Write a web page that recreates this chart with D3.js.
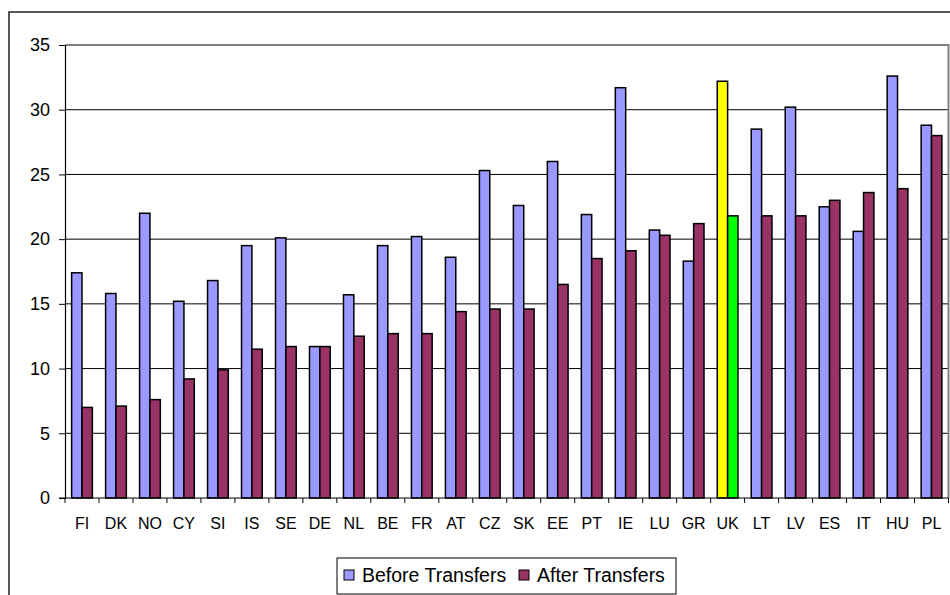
<!DOCTYPE html>
<html>
<head>
<meta charset="utf-8">
<script src="https://cdn.jsdelivr.net/npm/d3@7"></script>
<style>
  html, body { margin: 0; padding: 0; background: #fff; }
  svg { display: block; font-family: "Liberation Sans", Arial, sans-serif; }
</style>
</head>
<body>
<svg id="chart" width="950" height="595"></svg>
<script>
// Country codes along the x axis
const countries = ["FI","DK","NO","CY","SI","IS","SE","DE","NL","BE","FR","AT","CZ","SK","EE","PT","IE","LU","GR","UK","LT","LV","ES","IT","HU","PL"];
// Rate before social transfers (%)
const beforeTransfers = [17.4,15.8,22.0,15.2,16.8,19.5,20.1,11.7,15.7,19.5,20.2,18.6,25.3,22.6,26.0,21.9,31.7,20.7,18.3,32.2,28.5,30.2,22.5,20.6,32.6,28.8];
// Rate after social transfers (%)
const afterTransfers = [7.0,7.1,7.6,9.2,9.9,11.5,11.7,11.7,12.5,12.7,12.7,14.4,14.6,14.6,16.5,18.5,19.1,20.3,21.2,21.8,21.8,21.8,23.0,23.6,23.9,28.0];
const seriesNames = ["Before Transfers", "After Transfers"];
const yTicks = [0,5,10,15,20,25,30,35];
const highlight = "UK";

const colors = { before: "#9999FF", after: "#993366", hiBefore: "#FFFF00", hiAfter: "#00FF00" };

const svg = d3.select("#chart");

// outer chart frame
svg.append("rect")
  .attr("x", 9).attr("y", 12).attr("width", 960).attr("height", 600)
  .attr("fill", "none").attr("stroke", "#222").attr("stroke-width", 1.5);

const plot = { left: 65, right: 948.5, top: 45, bottom: 498 };

const y = d3.scaleLinear().domain([0, 35]).range([plot.bottom, plot.top]);
const x0 = d3.scaleBand().domain(countries).range([plot.left, plot.right])
  .paddingInner(0.39).paddingOuter(0.195);
const x1 = d3.scaleBand().domain(["before", "after"]).range([0, x0.bandwidth()]);

// gridlines
svg.append("g").selectAll("line")
  .data(yTicks.filter(t => t > 0 && t < 35))
  .join("line")
  .attr("x1", plot.left).attr("x2", plot.right)
  .attr("y1", d => y(d)).attr("y2", d => y(d))
  .attr("stroke", "#000").attr("stroke-width", 1);

// plot area border (top & right)
svg.append("path")
  .attr("d", `M${plot.left},${y(35)}H${plot.right}V${plot.bottom}`)
  .attr("fill", "none").attr("stroke", "#808080").attr("stroke-width", 2);

// y axis
const yAxis = d3.axisLeft(y).tickValues(yTicks).tickSize(6).tickPadding(9);
const gy = svg.append("g").attr("transform", `translate(${plot.left},0)`).call(yAxis);
gy.select(".domain").attr("stroke", "#000").attr("stroke-width", 1.2);
gy.selectAll(".tick line").attr("stroke", "#000");
gy.selectAll(".tick text").attr("font-size", 18).attr("fill", "#000")
  .attr("font-family", "Liberation Sans, Arial, sans-serif");

// bars
const groups = svg.append("g").selectAll("g")
  .data(countries.map((c, i) => ({ c, before: beforeTransfers[i], after: afterTransfers[i] })))
  .join("g")
  .attr("transform", d => `translate(${x0(d.c)},0)`);

groups.selectAll("rect")
  .data(d => [
    { key: "before", v: d.before, fill: d.c === highlight ? colors.hiBefore : colors.before },
    { key: "after", v: d.after, fill: d.c === highlight ? colors.hiAfter : colors.after }
  ])
  .join("rect")
  .attr("x", d => x1(d.key))
  .attr("width", x1.bandwidth())
  .attr("y", d => y(d.v))
  .attr("height", d => y(0) - y(d.v))
  .attr("fill", d => d.fill)
  .attr("stroke", "#000").attr("stroke-width", 1.5);

// x axis line and category separator ticks
const xg = svg.append("g");
xg.append("line")
  .attr("x1", plot.left - 6).attr("x2", plot.right)
  .attr("y1", plot.bottom).attr("y2", plot.bottom)
  .attr("stroke", "#000").attr("stroke-width", 1.2);
const step = x0.step();
xg.selectAll("line.sep")
  .data(d3.range(countries.length + 1))
  .join("line").attr("class", "sep")
  .attr("x1", i => plot.left + i * step).attr("x2", i => plot.left + i * step)
  .attr("y1", plot.bottom).attr("y2", plot.bottom + 5)
  .attr("stroke", "#000");
xg.selectAll("text")
  .data(countries)
  .join("text")
  .attr("x", d => x0(d) + x0.bandwidth() / 2)
  .attr("y", 529)
  .attr("text-anchor", "middle")
  .attr("font-size", 16)
  .attr("fill", "#000")
  .text(d => d);

// legend
const legend = svg.append("g");
legend.append("rect")
  .attr("x", 337).attr("y", 558).attr("width", 339).attr("height", 36)
  .attr("fill", "#fff").attr("stroke", "#000").attr("stroke-width", 1);
const legendItems = [
  { name: seriesNames[0], color: colors.before, sx: 344, tx: 362 },
  { name: seriesNames[1], color: colors.after, sx: 519, tx: 537 }
];
legendItems.forEach(it => {
  legend.append("rect")
    .attr("x", it.sx).attr("y", 570).attr("width", 10).attr("height", 10)
    .attr("fill", it.color).attr("stroke", "#000").attr("stroke-width", 1);
  legend.append("text")
    .attr("x", it.tx).attr("y", 582)
    .attr("font-size", 19.5).attr("fill", "#000")
    .text(it.name);
});
</script>
</body>
</html>
